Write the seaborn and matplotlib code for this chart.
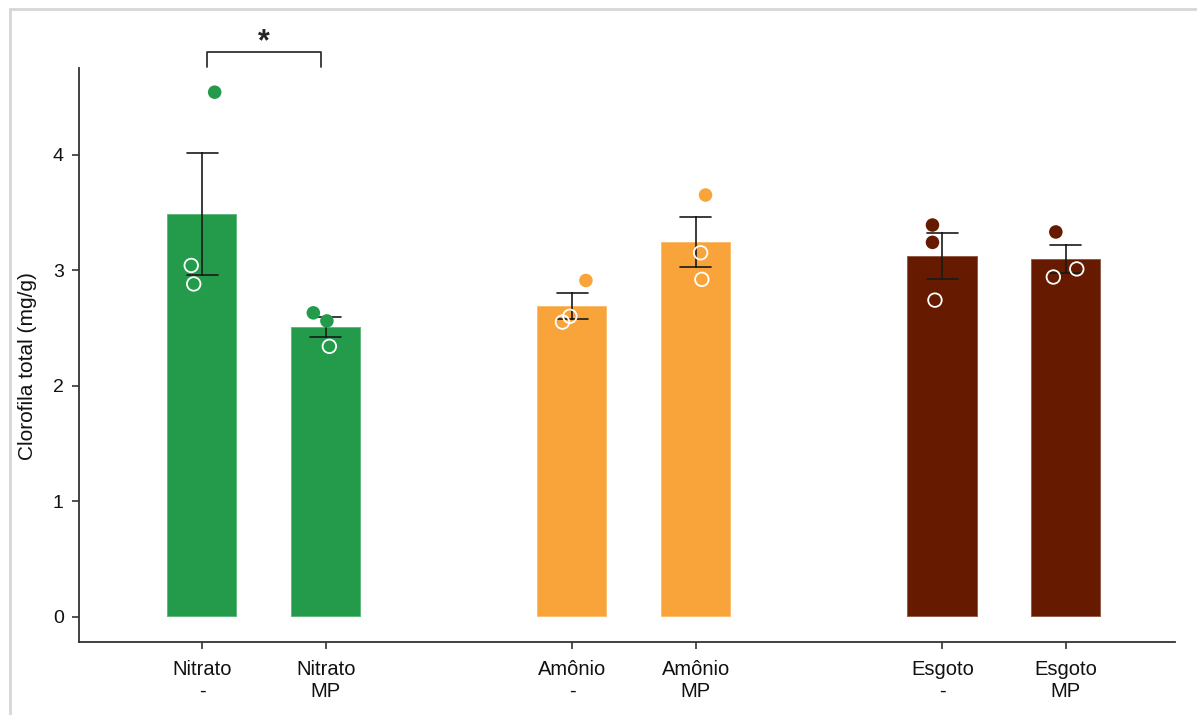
import numpy as np
import pandas as pd
import matplotlib
matplotlib.use("Agg")
import matplotlib.pyplot as plt
import seaborn as sns
from matplotlib.patches import Rectangle

# values
groups = ["Nitrato", "Nitrato", "Amônio", "Amônio", "Esgoto", "Esgoto"]
treatments = ["-", "MP", "-", "MP", "-", "MP"]
positions = [0, 1, 3, 4, 6, 7]
replicates = [
    [4.54, 3.04, 2.88],
    [2.63, 2.56, 2.34],
    [2.91, 2.55, 2.60],
    [3.65, 3.15, 2.92],
    [3.39, 3.24, 2.74],
    [3.33, 2.94, 3.01],
]
filled = [
    [True, False, False],
    [True, True, False],
    [True, False, False],
    [True, False, False],
    [True, True, False],
    [True, False, False],
]
jitter = [
    [0.10, -0.09, -0.07],
    [-0.10, 0.01, 0.03],
    [0.11, -0.08, -0.02],
    [0.08, 0.04, 0.05],
    [-0.08, -0.08, -0.06],
    [-0.08, -0.10, 0.09],
]
colors = {"Nitrato": "#239b4b", "Amônio": "#f9a43b", "Esgoto": "#661b00"}

rows = []
for i in range(len(groups)):
    for v, f, j in zip(replicates[i], filled[i], jitter[i]):
        rows.append({"pos": positions[i], "grupo": groups[i], "valor": v,
                     "cheio": f, "xj": positions[i] + j})
df = pd.DataFrame(rows)

sns.set_theme(style="ticks")
plt.rcParams["font.family"] = ["Liberation Sans", "DejaVu Sans"]

fig = plt.figure(figsize=(11.97, 7.15), dpi=100)
ax = fig.add_axes([0.066, 0.102, 0.916, 0.803])

sns.barplot(data=df, x="pos", y="valor", hue="grupo", palette=colors,
            native_scale=True, dodge=False, width=0.57, errorbar="se",
            saturation=1, capsize=0.25,
            err_kws={"color": "#1a1a1a", "linewidth": 1.2},
            edgecolor=(1, 1, 1, 0.35), linewidth=1.2, legend=False, ax=ax)

full = df[df["cheio"]]
hollow = df[~df["cheio"]]
sns.scatterplot(data=full, x="xj", y="valor", hue="grupo", palette=colors,
                s=95, linewidth=0, legend=False, ax=ax, zorder=5)
ax.scatter(hollow["xj"], hollow["valor"], s=95, facecolors="none",
           edgecolors="white", linewidths=1.3, zorder=5)

ax.set_xlim(-1.0, 7.89)
ax.set_ylim(-0.22, 4.75)
ax.set_xticks(positions)
ax.set_xticklabels([f"{g}\n{t}" for g, t in zip(groups, treatments)])
ax.set_yticks([0, 1, 2, 3, 4])
ax.tick_params(axis="both", colors="#333333", labelcolor="#111111",
               length=5, width=1.2)
ax.tick_params(axis="x", labelsize=14.5, pad=8)
ax.tick_params(axis="y", labelsize=14, pad=6)
ax.set_xlabel("")
ax.set_ylabel("Clorofila total (mg/g)", fontsize=15, color="#111111")
ax.yaxis.set_label_coords(-0.038, 0.48)
for s in ["left", "bottom"]:
    ax.spines[s].set_color("#333333")
    ax.spines[s].set_linewidth(1.3)
sns.despine(ax=ax)

# significance bracket
ax.plot([0.04, 0.04, 0.96, 0.96], [4.76, 4.89, 4.89, 4.76], color="#333333",
        linewidth=1.3, clip_on=False)
ax.text(0.5, 4.84, "*", ha="center", va="bottom", fontsize=22,
        fontweight="bold", clip_on=False)

# light frame around the figure
fig.patches.append(Rectangle((10 / 1197, -0.05), 1.2, 1.05 - 9 / 715,
                             transform=fig.transFigure, fill=False,
                             edgecolor="#d6d6d6", linewidth=2))

fig.savefig("out.png", dpi=100)
